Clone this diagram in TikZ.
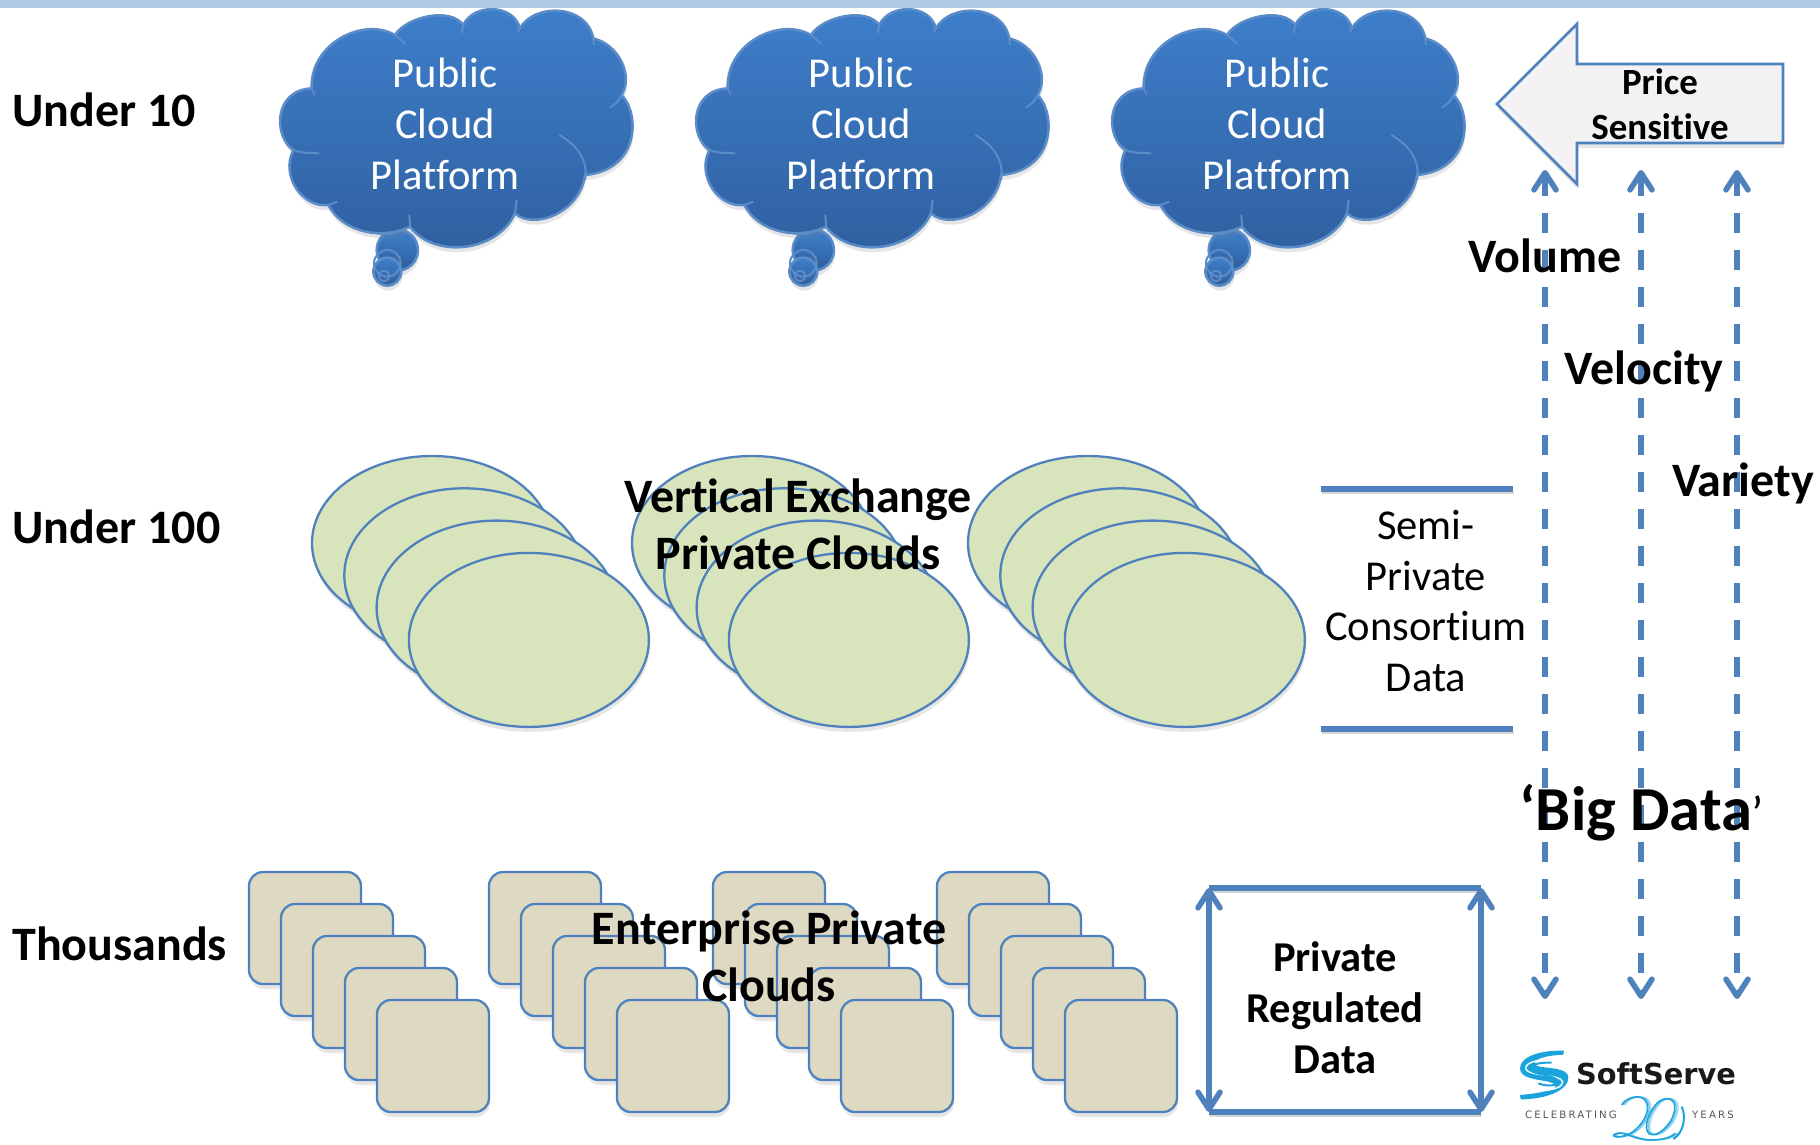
\documentclass[tikz,border=0pt]{standalone}
\usepackage{fontspec}
\setmainfont{Carlito}[Ligatures=NoCommon]
\newfontfamily\logoFont{DejaVu Sans}
\newfontfamily\logoSmall{DejaVu Sans}[LetterSpace=21]
\usetikzlibrary{arrows.meta,shadows}
\definecolor{barColor}{HTML}{B2C9E5}
\definecolor{lineColor}{HTML}{4F81BD}
\definecolor{cloudTop}{HTML}{3E7FCB}
\definecolor{cloudBottom}{HTML}{2F5F9F}
\definecolor{cloudLine}{HTML}{5B8CC8}
\definecolor{ovalColor}{HTML}{D8E4BC}
\definecolor{squareColor}{HTML}{DDD9C3}
\definecolor{logoBlue}{HTML}{1BA3DC}
\definecolor{logoText}{HTML}{555555}
\tikzstyle{diagram} = [x = .01cm, y = -.01cm]
\tikzstyle{softShadow} = [drop shadow={opacity=.2, shadow xshift=.01cm, shadow yshift=-.05cm}]
\tikzstyle{lineShadow} = [preaction={draw, opacity=.16, transform canvas={xshift=.01cm, yshift=-.04cm}}]
\tikzstyle{cloudStyle} = [draw=cloudLine, line width=.025cm, top color=cloudTop, bottom color=cloudBottom, softShadow]
\tikzstyle{cloudDetail} = [draw=cloudLine, line width=.02cm]
\tikzstyle{cloudText} = [align=center, text=white, font=\fontsize{12.1}{14.5}\selectfont]
\tikzstyle{ovalStyle} = [draw=lineColor, line width=.023cm, fill=ovalColor, softShadow]
\tikzstyle{squareStyle} = [draw=lineColor, line width=.023cm, fill=squareColor, rounded corners=.14cm, softShadow]
\tikzstyle{rowLabel} = [anchor=west, font=\fontsize{13.65}{16}\selectfont\bfseries]
\tikzstyle{boldText} = [align=center, font=\fontsize{13.65}{16.2}\selectfont\bfseries]
\tikzstyle{dataLine} = [color=lineColor, line width=.056cm]
\tikzstyle{flowArrow} = [dataLine, {Straight Barb[length=.17cm,width=.22cm,round]}-{Straight Barb[length=.17cm,width=.22cm,round]}]
\tikzstyle{flowDashed} = [flowArrow, dash pattern=on .2cm off .17cm]
\tikzstyle{ribbonLine} = [draw=logoBlue, line width=.015cm]
\newcommand{\publicCloud}[2]{
  \begin{scope}[shift={(#1,0)}, scale=.3333]
    \path [cloudStyle] (412,750) circle (62);
    \path [cloudStyle] (382,815) circle (42);
    \draw [cloudDetail] (382,790) circle (40);
    \draw [cloudDetail] (372,828) circle (16);
    \path [cloudStyle] (155,265) .. controls (150,130) and (310,50) .. (405,105)
      .. controls (440,50) and (570,20) .. (610,75)
      .. controls (640,10) and (760,10) .. (780,85)
      .. controls (820,10) and (980,10) .. (1000,115)
      .. controls (1080,135) and (1120,230) .. (1085,285)
      .. controls (1140,340) and (1140,510) .. (975,525)
      .. controls (960,640) and (820,690) .. (765,640)
      .. controls (710,760) and (520,775) .. (450,680)
      .. controls (370,720) and (250,700) .. (205,615)
      .. controls (130,625) and (60,530) .. (100,450)
      .. controls (40,410) and (40,270) .. (155,265) -- cycle;
    \draw [cloudDetail] (405,105) -- (437,132);
    \draw [cloudDetail] (610,75) -- (605,100);
    \draw [cloudDetail] (780,85) -- (772,95);
    \draw [cloudDetail] (1000,115) -- (1002,135);
    \draw [cloudDetail] (1085,285) .. controls (1075,305) .. (1050,322);
    \draw [cloudDetail] (898,405) .. controls (960,440) and (985,490) .. (975,540);
    \draw [cloudDetail] (765,640) -- (770,600);
    \draw [cloudDetail] (450,680) -- (448,645);
    \draw [cloudDetail] (205,615) -- (232,605);
    \draw [cloudDetail] (100,450) .. controls (125,458) .. (178,460);
    \draw [cloudDetail] (155,265) -- (165,285);
    \draw [cloudDetail] (350,700) .. controls (385,705) .. (440,685);
  \end{scope}
  \node [cloudText] (#2) at (#1+185,124) {Public\\Cloud\\Platform};
}
\newcommand{\ovalStack}[1]{
  \foreach \step in {0,...,3} {
    \pgfmathsetmacro{\var}{#1 + 32.3 * \step}
    \pgfmathsetmacro{\varY}{543 + 32.3 * \step}
    \path [ovalStyle] (\var,\varY) ellipse [x radius=120, y radius=87];
  }
}
\newcommand{\squareStack}[1]{
  \foreach \step in {0,...,4} {
    \pgfmathsetmacro{\var}{#1 + 32 * \step}
    \pgfmathsetmacro{\varY}{872 + 32 * \step}
    \path [squareStyle] (\var,\varY) rectangle +(112,112);
  }
}
\begin{document}
\begin{tikzpicture}[diagram]
  \useasboundingbox (0,0) rectangle (1820,1144);
  \fill [barColor] (0,0) rectangle (1820,8);
  % clouds
  \publicCloud{260}{cloudA}\publicCloud{676}{cloudB}\publicCloud{1092}{cloudC}
  \node [rowLabel] (underTen) at (0,110) {Under 10};
  \node [rowLabel] (underHundred) at (0,527) {Under 100};
  \node [rowLabel] (thousands) at (0,944) {Thousands};
  % ovals
  \ovalStack{432}\ovalStack{752}\ovalStack{1088}
  \node [boldText] (vertical) at (798,524) {Vertical Exchange\\Private Clouds};
  % squares
  \squareStack{249}\squareStack{489}\squareStack{713}\squareStack{937}
  \node [boldText] (enterprise) at (769,956) {Enterprise Private\\Clouds};
  % semi private
  \coordinate (semiTopL) at (1321,489);
  \coordinate (semiTopR) at (1513,489);
  \coordinate (semiBotL) at (1321,729);
  \coordinate (semiBotR) at (1513,729);
  \draw [dataLine, lineShadow] (semiTopL) -- (semiTopR);
  \draw [dataLine, lineShadow] (semiBotL) -- (semiBotR);
  \node [cloudText, text=black] (semi) at (1426,601) {Semi-\\Private\\Consortium\\Data};
  % regulated box
  \coordinate (boxA) at (1209,888);
  \coordinate (boxB) at (1481,888);
  \coordinate (boxC) at (1209,1112);
  \coordinate (boxD) at (1481,1112);
  \draw [dataLine, lineShadow] (boxA) -- (boxB);
  \draw [dataLine, lineShadow] (boxC) -- (boxD);
  \draw [flowArrow] (boxA) -- (boxC);
  \draw [flowArrow] (boxB) -- (boxD);
  \node [boldText, font=\fontsize{12.1}{14.5}\selectfont\bfseries] (regulated) at (1335,1008) {Private\\Regulated\\Data};
  % price arrow
  \path [draw=lineColor, line width=.027cm, fill=black!5, softShadow, line join=miter]
    (1497,104) -- (1577,24) -- (1577,64) -- (1783,64) -- (1783,143) -- (1577,143) -- (1577,184) -- cycle;
  \node [boldText, font=\fontsize{10.5}{12.8}\selectfont\bfseries] (price) at (1660,104) {Price\\Sensitive};
  % big data arrows
  \foreach \name/\xpos in {vol/1545,vel/1641,var/1737} {
    \coordinate (\name Top) at (\xpos,170);
    \coordinate (\name Bot) at (\xpos,999);
    \draw [flowDashed] (\name Top) -- (\name Bot);
  }
  \node [boldText] (volume) at (1545,256) {Volume};
  \node [boldText] (velocity) at (1644,371) {Velocity};
  \node [boldText] (variety) at (1743,483) {Variety};
  \node [boldText, font=\fontsize{17.8}{20}\selectfont\bfseries] (bigData) at (1642,813) {‘Big Data{\mdseries\fontsize{14}{16}\selectfont ’}};
  % logo
  \begin{scope}[shift={(1510,1040)}, scale=.3333]
    \path [fill=logoBlue] (162,32) .. controls (90,30) and (30,50) .. (30,85)
      .. controls (30,115) and (80,118) .. (115,125)
      .. controls (150,133) and (140,150) .. (100,155)
      .. controls (80,160) and (50,163) .. (30,165) -- (32,178)
      .. controls (110,178) and (178,150) .. (175,110)
      .. controls (172,85) and (120,85) .. (90,80)
      .. controls (65,75) and (70,60) .. (100,52)
      .. controls (120,46) and (145,45) .. (160,44) -- cycle;
    \draw [white, line width=.014cm] (135,58) .. controls (80,58) and (42,68) .. (48,88)
      .. controls (56,108) and (150,102) .. (158,125)
      .. controls (160,140) and (130,152) .. (95,150);
    \draw [logoBlue, line width=.02cm] (125,68) .. controls (85,66) and (52,76) .. (60,90)
      .. controls (75,104) and (138,105) .. (145,125)
      .. controls (148,135) and (115,142) .. (85,130);
    \foreach \shiftX/\fade in {0/100,5/60,10/35} {
      \draw [ribbonLine, opacity=\fade/100, shift={(\shiftX,0)}] (335,195) .. controls (345,175) and (385,160) .. (405,180)
        .. controls (430,210) and (390,270) .. (350,285)
        .. controls (325,295) and (300,290) .. (315,282)
        .. controls (340,270) and (370,300) .. (420,300)
        .. controls (450,300) and (480,295) .. (495,280);
      \draw [ribbonLine, opacity=\fade/100, shift={(\shiftX,0)}] (450,182) .. controls (480,165) and (505,185) .. (490,225)
        .. controls (475,270) and (425,300) .. (412,275)
        .. controls (400,245) and (430,195) .. (450,182);
    }
    \draw [ribbonLine, line width=.02cm] (515,200) .. controls (530,230) and (520,280) .. (490,297);
  \end{scope}
  \node [font=\logoFont\bfseries\fontsize{8.2}{10}\selectfont, text=black!90] (softServe) at (1656,1074) {SoftServe};
  \node [font=\logoSmall\fontsize{2.9}{4}\selectfont, text=logoText] (celebrating) at (1571,1115) {CELEBRATING};
  \node [font=\logoSmall\fontsize{2.9}{4}\selectfont, text=logoText] (years) at (1713,1115) {YEARS};
\end{tikzpicture}
\end{document}
